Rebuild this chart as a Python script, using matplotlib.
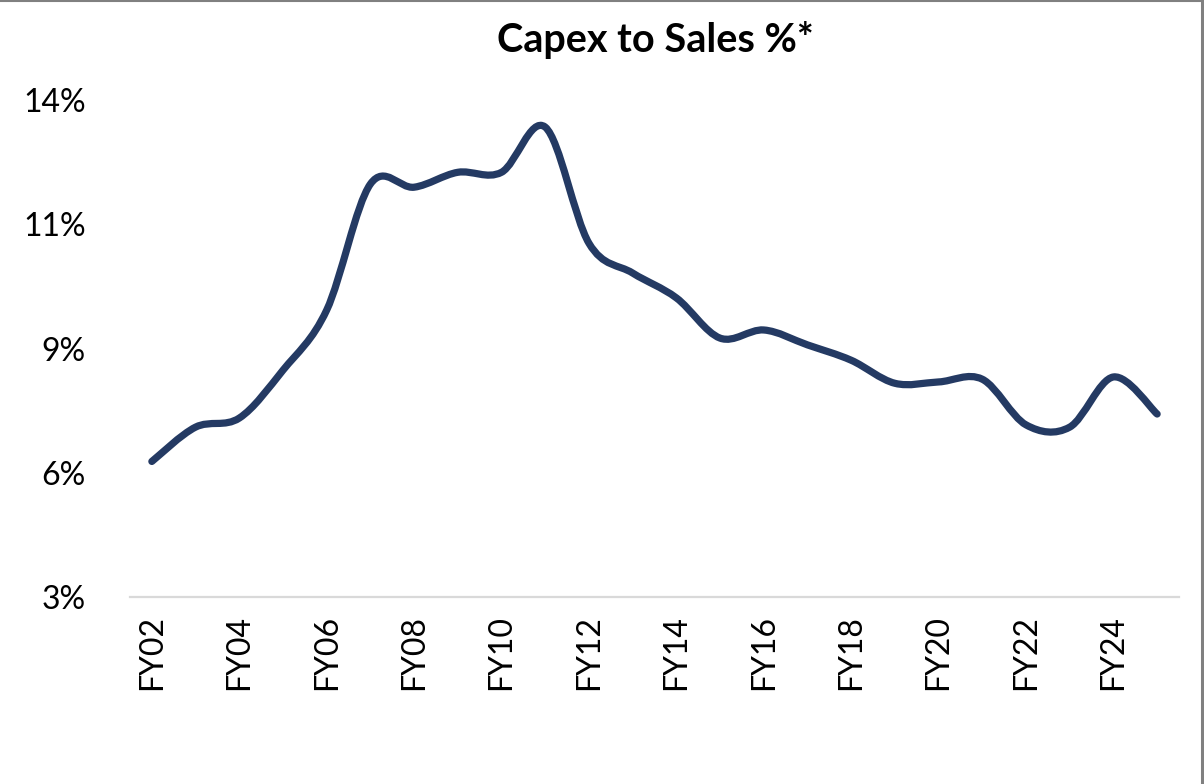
import matplotlib
matplotlib.use('Agg')
import matplotlib.pyplot as plt
from matplotlib.path import Path
from matplotlib.patches import PathPatch
from matplotlib.lines import Line2D
import numpy as np

# Capex to Sales %, FY02 - FY25
years = ['FY02', 'FY03', 'FY04', 'FY05', 'FY06', 'FY07', 'FY08', 'FY09',
         'FY10', 'FY11', 'FY12', 'FY13', 'FY14', 'FY15', 'FY16', 'FY17',
         'FY18', 'FY19', 'FY20', 'FY21', 'FY22', 'FY23', 'FY24', 'FY25']
capex_to_sales = [6.0, 6.76, 6.96, 8.02, 9.35, 12.14, 12.07, 12.40,
                  12.40, 13.40, 10.83, 10.17, 9.62, 8.73, 8.91, 8.58,
                  8.24, 7.73, 7.76, 7.82, 6.81, 6.76, 7.87, 7.05]
# excel put the major unit at 2.75 and rounds the labels to whole percents
y_ticks = [3, 5.75, 8.5, 11.25, 14]

plt.rcParams['font.family'] = ['Lato', 'DejaVu Sans']

fig = plt.figure(figsize=(12.04, 7.84), dpi=100)
ax = fig.add_axes([130 / 1204, 187 / 784, 1049 / 1204, 497 / 784])

x = np.arange(len(years))
y = np.array(capex_to_sales)

# smoothed line like excel: cubic bezier through the points (catmull-rom)
verts = [(x[0], y[0])]
codes = [Path.MOVETO]
for i in range(len(x) - 1):
    p0 = np.array([x[max(i - 1, 0)], y[max(i - 1, 0)]])
    p1 = np.array([x[i], y[i]])
    p2 = np.array([x[i + 1], y[i + 1]])
    p3 = np.array([x[min(i + 2, len(x) - 1)], y[min(i + 2, len(x) - 1)]])
    c1 = p1 + (p2 - p0) / 6
    c2 = p2 - (p3 - p1) / 6
    verts += [tuple(c1), tuple(c2), tuple(p2)]
    codes += [Path.CURVE4] * 3
ax.add_patch(PathPatch(Path(verts, codes), facecolor='none', edgecolor='#243a63',
                       lw=5.2, capstyle='round', joinstyle='round'))

ax.set_xlim(-0.5, len(years) - 0.5)
ax.set_ylim(3, 14)
ax.set_yticks(y_ticks)
ax.set_yticklabels([f'{int(v + 0.5)}%' for v in y_ticks])
ax.set_xticks(x[::2])
ax.set_xticklabels(years[::2], rotation=90)
ax.tick_params(axis='y', length=0, pad=32, labelsize=23)
ax.tick_params(axis='x', length=0, pad=13, labelsize=23)

for s in ['top', 'right', 'left']:
    ax.spines[s].set_visible(False)
ax.spines['bottom'].set_color('#d9d9d9')
ax.spines['bottom'].set_linewidth(1.6)

fig.text(655 / 1204, 1 - 40 / 784, 'Capex to Sales %*', ha='center', va='center',
         fontsize=28.5, fontweight='bold')

# grey frame round the chart
fig.add_artist(Line2D([0, 1], [1 - 1 / 784, 1 - 1 / 784], color='#808080', lw=1.5))
fig.add_artist(Line2D([1201.5 / 1204, 1201.5 / 1204], [0, 1], color='#808080', lw=2.2))

fig.savefig('out.png', dpi=100)
